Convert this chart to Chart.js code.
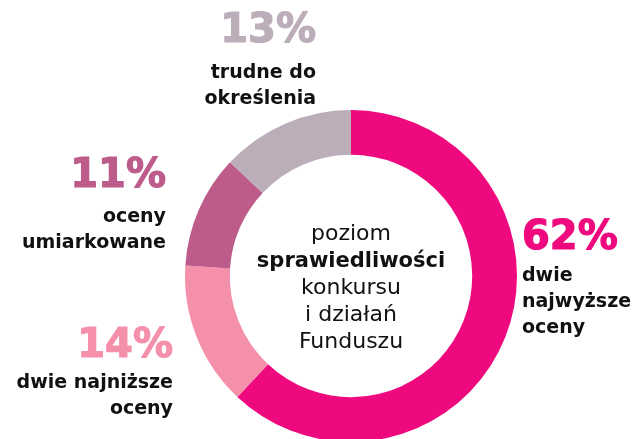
<!DOCTYPE html>
<html>
<head>
<meta charset="utf-8">
<script src="https://cdn.jsdelivr.net/npm/chart.js@4"></script>
<style>
  html, body { margin: 0; padding: 0; background: #fff; }
  #wrap { width: 638px; height: 439px; position: relative; }
</style>
</head>
<body>
<div id="wrap"><canvas id="ocenyChart"></canvas></div>
<script>
// -------- DANE --------
const kategorie = ["dwie najwyższe oceny", "dwie najniższe oceny", "oceny umiarkowane", "trudne do określenia"];
const wartosci = [62, 14, 11, 13];
const opisy = [
    ["dwie", "najwyższe", "oceny"],
    ["dwie najniższe", "oceny"],
    ["oceny", "umiarkowane"],
    ["trudne do", "określenia"]
];
const srodek = ["poziom", "sprawiedliwości", "konkursu", "i działań", "Funduszu"];

const kolory = ["#ee0a7e", "#f590ab", "#bd5c8b", "#bcaeb9"];
const FONT = "'DejaVu Sans', sans-serif";

// pozycje etykiet (x, wyrównanie, środek %, pierwsza linia bazowa)
const pozycje = [
    { x: 522, align: "left", py: 239, ly: 281 },
    { x: 173, align: "right", py: 347, ly: 388 },
    { x: 166, align: "right", py: 177, ly: 222 },
    { x: 316, align: "right", py: 32, ly: 78 }
];

// -------- PLUGIN NAPISOW --------
const napisy = {
    id: "napisy",
    afterDraw(chart) {
        const ctx = chart.ctx;
        const arc = chart.getDatasetMeta(0).data[0];
        ctx.save();

        // tekst w srodku
        ctx.textAlign = "center";
        ctx.textBaseline = "alphabetic";
        ctx.fillStyle = "#111";
        srodek.forEach((t, i) => {
            ctx.font = (i === 1 ? "bold 21px " : "22px ") + FONT;
            ctx.fillText(t, arc.x, 240 + i * 27);
        });

        // etykiety
        wartosci.forEach((v, i) => {
            const p = pozycje[i];
            ctx.textAlign = p.align;
            ctx.textBaseline = "middle";
            ctx.fillStyle = kolory[i];
            ctx.strokeStyle = kolory[i];
            ctx.lineWidth = 1.2;
            ctx.font = "bold 40px " + FONT;
            ctx.fillText(v + "%", p.x, p.py);
            ctx.strokeText(v + "%", p.x, p.py);

            ctx.textBaseline = "alphabetic";
            ctx.fillStyle = "#111";
            ctx.font = "bold 19px " + FONT;
            opisy[i].forEach((t, j) => {
                ctx.fillText(t, p.x, p.ly + j * 26);
            });
        });
        ctx.restore();
    }
};

// -------- WYKRES --------
new Chart(document.getElementById("ocenyChart"), {
    type: "doughnut",
    data: {
        labels: kategorie,
        datasets: [{
            data: wartosci,
            backgroundColor: kolory,
            borderWidth: 0,
            radius: 166
        }]
    },
    options: {
        responsive: true,
        maintainAspectRatio: false,
        animation: false,
        cutout: "73%",
        layout: { padding: { left: 185, right: 121, top: 113, bottom: 0 } },
        plugins: {
            legend: { display: false },
            tooltip: { enabled: false }
        }
    },
    plugins: [napisy]
});
</script>
</body>
</html>
